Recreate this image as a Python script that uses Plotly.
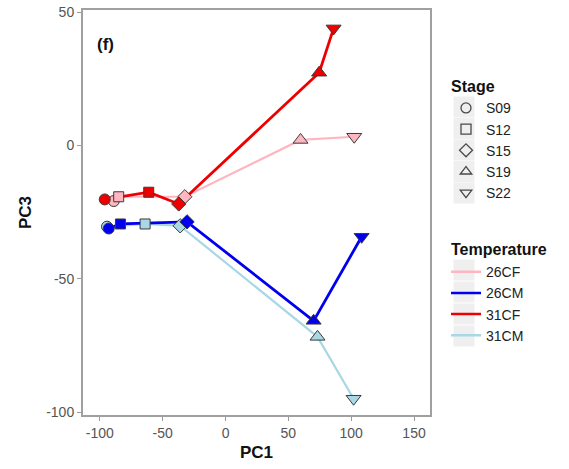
import plotly.graph_objects as go

# PCA scores (PC1, PC3) per temperature group across developmental stages
stages = ["S09", "S12", "S15", "S19", "S22"]
groups = ["26CF", "26CM", "31CF", "31CM"]

pc1_26CF = [-88.9, -85.0, -32.4, 59.7, 102.4]
pc3_26CF = [-20.8, -19.2, -19.2, 2.1, 3.3]

pc1_26CM = [-92.9, -83.6, -30.6, 70.1, 108.3]
pc3_26CM = [-31.1, -29.4, -28.6, -65.7, -34.2]

pc1_31CF = [-96.1, -61.1, -37.2, 74.5, 86.0]
pc3_31CF = [-20.2, -17.5, -21.9, 27.3, 43.9]

pc1_31CM = [-94.3, -64.0, -36.1, 73.2, 101.9]
pc3_31CM = [-30.4, -29.4, -30.1, -71.7, -94.9]

x_ticks = [-100, -50, 0, 50, 100, 150]
y_ticks = [-100, -50, 0, 50]

colors = {"26CF": "#ffb6c1", "26CM": "#0000ee", "31CF": "#ee0000", "31CM": "#a8d8e6"}
widths = {"26CF": 2.2, "26CM": 2.8, "31CF": 2.8, "31CM": 2.2}
symbols = ["circle", "square", "diamond", "triangle-up", "triangle-down"]
sizes = [11, 10, 11, 13, 13]

data = {
    "26CF": (pc1_26CF, pc3_26CF),
    "26CM": (pc1_26CM, pc3_26CM),
    "31CF": (pc1_31CF, pc3_31CF),
    "31CM": (pc1_31CM, pc3_31CM),
}

# page geometry (pixels): panel spans x 83..430, y 10..415
W, H = 569, 469
L, R, T, B = 83, 430, 10, 415
paper_w = W - L
paper_h = B - T
panel_frac = (R - L) / paper_w

fig = go.Figure()

# light grey backgrounds behind the legend keys, drawn on a hidden helper axis
# whose y units are page pixels
key_rows = [107 + 21.5 * k for k in range(5)] + [270 + 22 * k for k in range(4)]
fig.add_trace(go.Scatter(
    x=[0.5] * len(key_rows), y=key_rows, mode="markers",
    marker=dict(symbol="square", size=21, color="#efefef", opacity=1, line=dict(width=0)),
    xaxis="x2", yaxis="y2", showlegend=False, hoverinfo="skip",
))

draw_order = ["31CM", "26CM", "26CF", "31CF"]
for g in draw_order:
    xs, ys = data[g]
    fig.add_trace(go.Scatter(
        x=xs, y=ys, mode="lines",
        line=dict(color=colors[g], width=widths[g]),
        showlegend=False, hoverinfo="skip",
    ))
for g in draw_order:
    xs, ys = data[g]
    fig.add_trace(go.Scatter(
        x=xs, y=ys, mode="markers", text=stages,
        marker=dict(symbol=symbols, size=sizes, color=colors[g], opacity=1,
                    line=dict(color="#3a3a3a", width=1)),
        showlegend=False,
    ))

# legend entries: stage shapes
for i, s in enumerate(stages):
    fig.add_trace(go.Scatter(
        x=[None], y=[None], mode="markers", name=s,
        marker=dict(symbol=symbols[i] + "-open", size=10, color="#4a4a4a",
                    line=dict(width=1.3)),
        legendgroup="stage", legendgrouptitle=dict(text="<b>Stage</b>"),
    ))
# legend entries: temperature lines
for g in groups:
    fig.add_trace(go.Scatter(
        x=[None], y=[None], mode="lines", name=g,
        line=dict(color=colors[g], width=2.5),
        legendgroup="temp", legendgrouptitle=dict(text="<b>Temperature</b>"),
    ))

x_range = [-113.4, 162.7]
y_range = [-101.0, 50.8]

axis_common = dict(
    showgrid=False, zeroline=False,
    showline=True, linecolor="#a0a0a0", linewidth=2, mirror=True,
    ticks="outside", ticklen=4, tickcolor="#9a9a9a", tickwidth=1.2,
    tickfont=dict(size=14, color="#555555"),
    title_font=dict(size=17, color="#111111", family="Liberation Sans, Arial"),
)

fig.update_layout(
    xaxis=dict(domain=[0, panel_frac], range=x_range, tickvals=x_ticks,
               ticktext=[str(v) for v in x_ticks],
               title=dict(text="<b>PC1</b>", standoff=6), **axis_common),
    yaxis=dict(range=y_range, tickvals=y_ticks, ticktext=[str(v) for v in y_ticks],
               title=dict(text="<b>PC3</b>", standoff=10), **axis_common),
    xaxis2=dict(domain=[(453 - L) / paper_w, (475 - L) / paper_w], range=[0, 1],
                visible=False, anchor="y2", fixedrange=True),
    yaxis2=dict(domain=[0, 1], range=[B, T], visible=False, anchor="x2", fixedrange=True),
)

fig.add_annotation(text="<b>(f)</b>", xref="x domain", yref="y domain", x=0.035, y=0.915,
                   showarrow=False, xanchor="left", yanchor="middle",
                   font=dict(size=17, color="#111111"))

fig.update_layout(
    width=W, height=H,
    margin=dict(l=L, r=0, t=T, b=H - B),
    paper_bgcolor="white", plot_bgcolor="white",
    font=dict(family="Liberation Sans, Arial", color="#222222"),
    legend=dict(
        x=(446 - L) / paper_w, y=(B - 68.5) / paper_h,
        xanchor="left", yanchor="top",
        font=dict(size=14, color="#222222"),
        grouptitlefont=dict(size=16, color="#111111"),
        tracegroupgap=34, itemwidth=30,
        bgcolor="rgba(0,0,0,0)",
    ),
)

fig.write_html("out.html")
